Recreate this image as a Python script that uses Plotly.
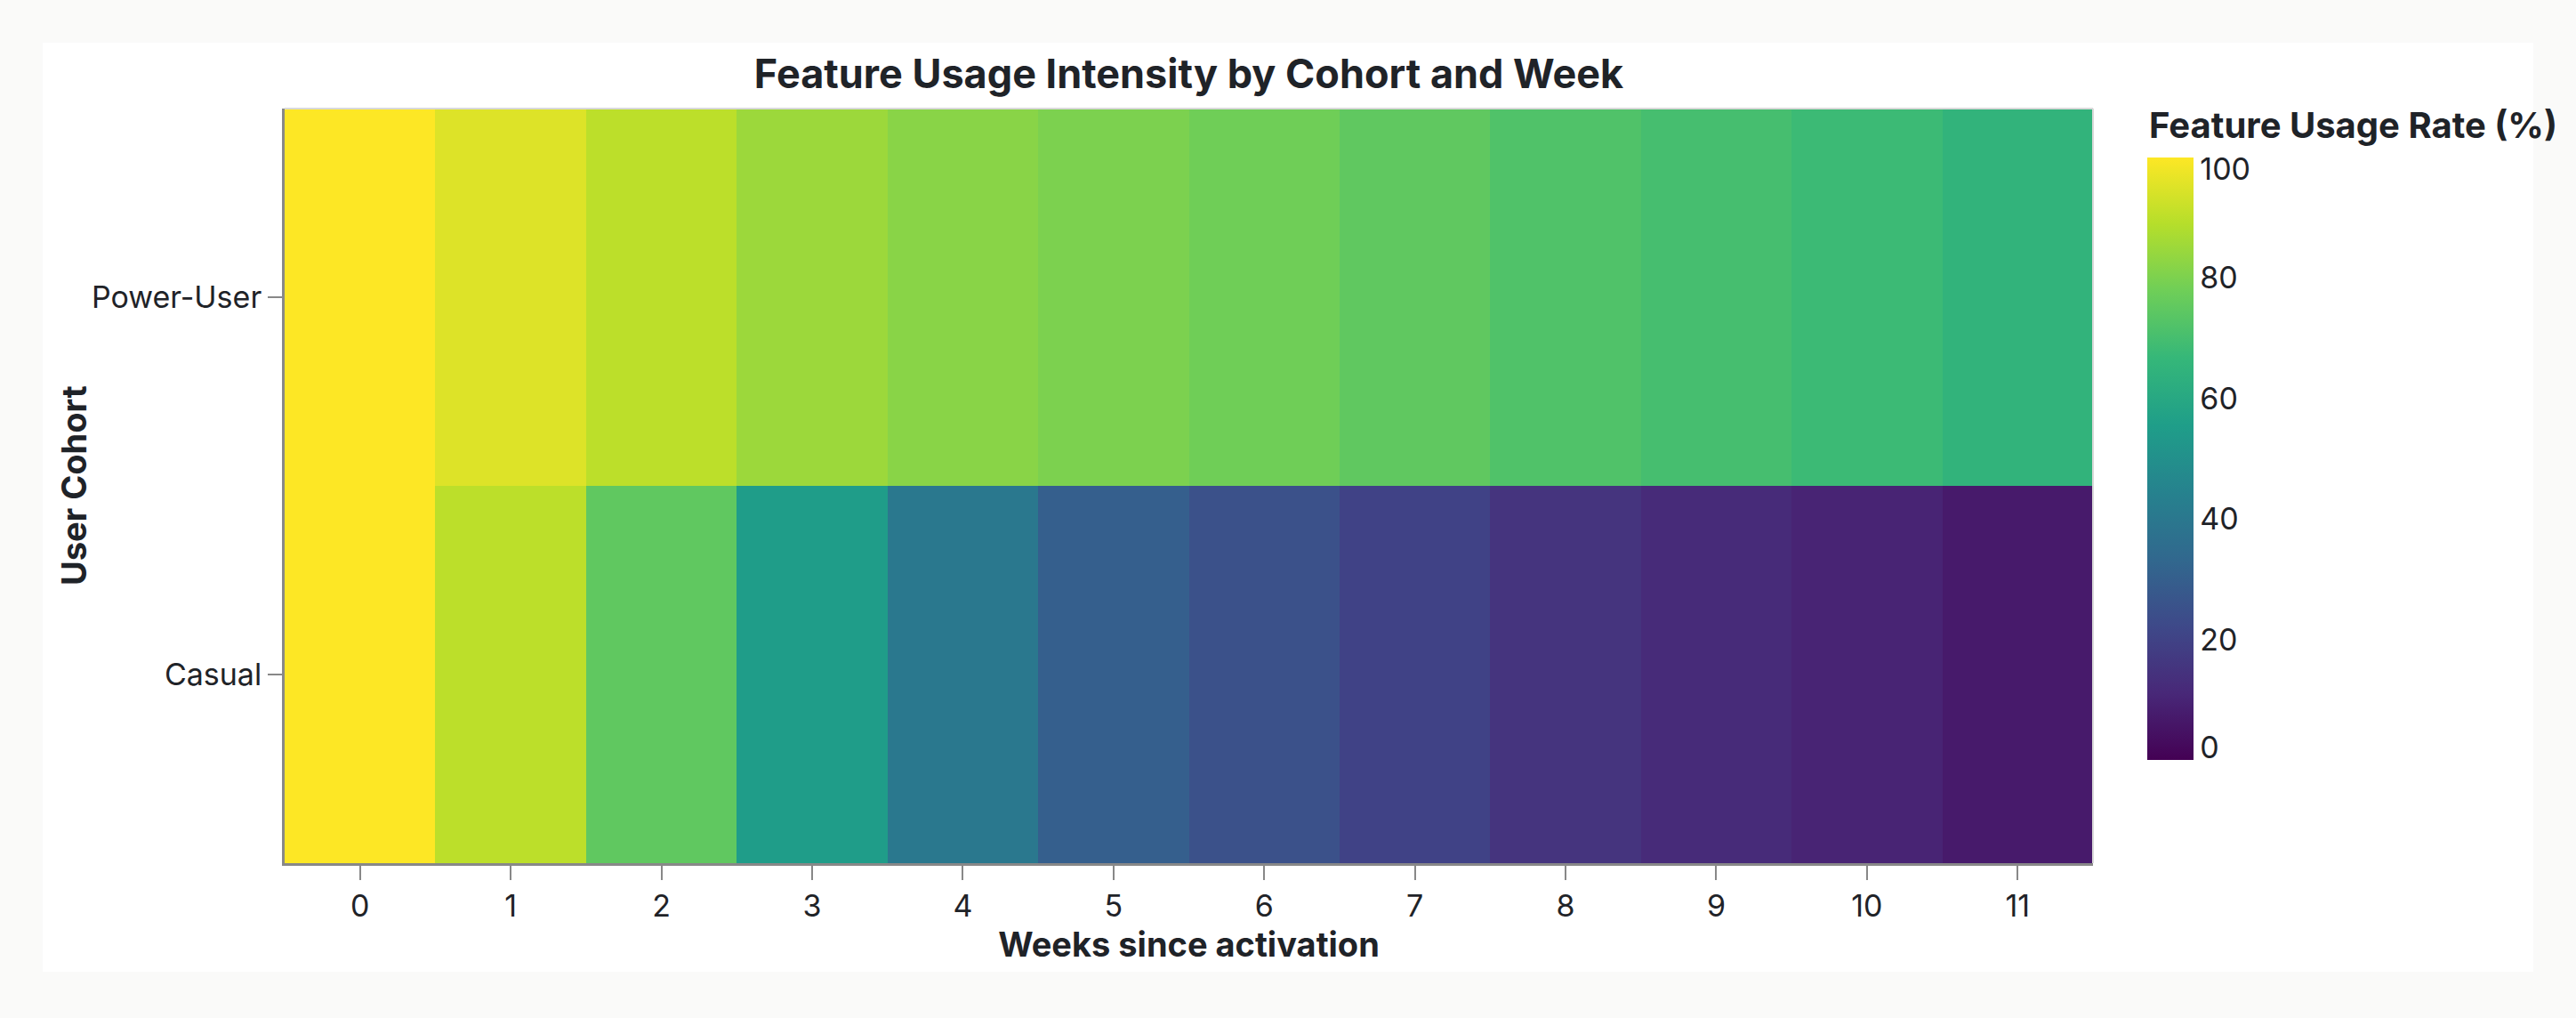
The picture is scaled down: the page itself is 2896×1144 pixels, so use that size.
import plotly.graph_objects as go

weeks = [0, 1, 2, 3, 4, 5, 6, 7, 8, 9, 10, 11]
cohorts = ["Casual", "Power-User"]
casual = [100, 90, 75, 55, 40, 30, 25, 20, 15, 12, 10, 7]
power_user = [100, 95, 90, 85, 82, 80, 78, 75, 72, 70, 68, 65]
cbar_ticks = [0, 20, 40, 60, 80, 100]

W, H = 2896, 1144
L, R, T, B = 320, 2353, 122, 970
pw, ph = R - L, B - T

def px_x(x):
    return (x - L) / pw

def px_y(y):
    return (B - y) / ph

FONT = "Inter, 'Noto Sans', sans-serif"
DARK = "#1f2328"

# end labels of the gradient legend sit inside the bar ends (as in the reference)
lo, hi = min(cbar_ticks), max(cbar_ticks)
inset = (hi - lo) * 0.02
cbar_pos = [v + inset if v == lo else (v - inset if v == hi else v) for v in cbar_ticks]

fig = go.Figure()
fig.add_trace(go.Heatmap(
    x=weeks,
    y=cohorts,
    z=[casual, power_user],
    colorscale="Viridis",
    zmin=0, zmax=100,
    colorbar=dict(
        thickness=52, thicknessmode="pixels",
        len=677, lenmode="pixels",
        x=px_x(2414), xanchor="left", xpad=0,
        y=px_y(177), yanchor="top", ypad=0,
        tickvals=cbar_pos, ticktext=[str(v) for v in cbar_ticks],
        ticks="", outlinewidth=0,
        tickfont=dict(size=34, color=DARK, family=FONT),
    ),
    hoverongaps=False,
))

fig.add_annotation(text="<b>Feature Usage Rate (%)</b>", xref="paper", yref="paper",
                   x=px_x(2414), y=px_y(140), xanchor="left", yanchor="middle",
                   showarrow=False, font=dict(size=40, color=DARK, family=FONT))
fig.add_annotation(text="<b>User Cohort</b>", xref="paper", yref="paper",
                   x=px_x(83), y=0.5, xanchor="center", yanchor="middle", textangle=-90,
                   showarrow=False, font=dict(size=38, color=DARK, family=FONT))

fig.add_shape(type="rect", xref="paper", yref="paper",
              x0=px_x(48), x1=px_x(2848), y0=px_y(1092), y1=px_y(48),
              fillcolor="white", line=dict(width=0), layer="below")
# light view border (top/right)
fig.add_shape(type="line", xref="paper", yref="paper", x0=0, x1=1, y0=1, y1=1,
              line=dict(color="#d9d9d9", width=2), layer="above")
fig.add_shape(type="line", xref="paper", yref="paper", x0=1, x1=1, y0=0, y1=1,
              line=dict(color="#d9d9d9", width=2), layer="above")

fig.update_layout(
    width=W, height=H,
    margin=dict(l=L, r=W - R, t=T, b=H - B, pad=0),
    paper_bgcolor="#fafaf9",
    plot_bgcolor="white",
    font=dict(family=FONT, color=DARK),
    title=dict(text="<b>Feature Usage Intensity by Cohort and Week</b>",
               x=px_x((L + R) / 2), xref="paper", xanchor="center",
               y=1 - 83 / H, yref="container", yanchor="middle",
               font=dict(size=45, color=DARK, family=FONT)),
    xaxis=dict(
        tickmode="array", tickvals=weeks, range=[-0.5, 11.5],
        showline=True, linecolor="#888888", linewidth=3,
        ticks="outside", ticklen=16, tickwidth=2, tickcolor="#888888",
        tickfont=dict(size=34, color=DARK),
        showgrid=False, zeroline=False,
        title=dict(text="<b>Weeks since activation</b>", font=dict(size=38, color=DARK), standoff=10),
    ),
    yaxis=dict(
        categoryorder="array", categoryarray=cohorts,
        showline=True, linecolor="#888888", linewidth=3,
        ticks="outside", ticklen=16, tickwidth=2, tickcolor="#888888",
        tickfont=dict(size=34, color=DARK),
        showgrid=False, zeroline=False,
    ),
)

fig.write_html("out.html")
